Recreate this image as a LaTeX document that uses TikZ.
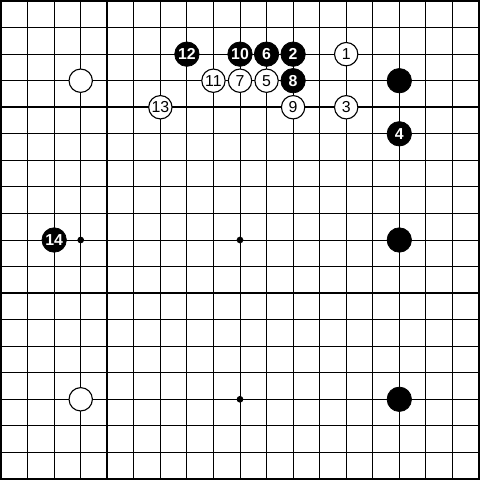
\documentclass[tikz,border=0pt]{standalone}
\usepackage{fontspec}
\setsansfont{Liberation Sans}
\begin{document}
\begin{tikzpicture}[x=0.5cm,y=-0.5cm,
 bstone/.style={circle,fill=black,draw=black,inner sep=0pt,minimum size=0.46cm,text=white,font=\sffamily\bfseries\fontsize{8.5}{8.5}\selectfont},
 wstone/.style={circle,fill=white,draw=black,line width=0.6pt,inner sep=0pt,minimum size=0.44cm,font=\sffamily\fontsize{8.5}{8.5}\selectfont},
 hoshi/.style={circle,fill=black,inner sep=0pt,minimum size=3.6pt}]
 \useasboundingbox (-0.04,-0.04) rectangle (18.04,18.04); %余白
 \foreach \i in {0,...,18} {
  \draw[line width=0.5pt] (\i,0)--(\i,18); %縦線
  \draw[line width=0.5pt] (0,\i)--(18,\i); %横線
 }
 \draw[line width=1.1pt] (0,0) rectangle (18,18); %外枠
 \draw[line width=1.1pt] (4,0)--(4,18); %太線
 \draw[line width=1.1pt] (0,4)--(18,4); %太線
 \draw[line width=1.1pt] (0,11)--(18,11); %太線
 \node[hoshi] (H1) at (3,9) {}; %星
 \node[hoshi] (H2) at (9,9) {}; %天元
 \node[hoshi] (H3) at (9,15) {}; %星
 \node[wstone] (WA) at (3,3) {}; %白
 \node[wstone] (WB) at (3,15) {}; %白
 \node[bstone] (BA) at (15,3) {}; %黒
 \node[bstone] (BB) at (15,9) {}; %黒
 \node[bstone] (BC) at (15,15) {}; %黒
 \node[wstone] (M1) at (13,2) {1};
 \node[bstone] (M2) at (11,2) {2};
 \node[wstone] (M3) at (13,4) {3};
 \node[bstone] (M4) at (15,5) {4};
 \node[wstone] (M5) at (10,3) {5};
 \node[bstone] (M6) at (10,2) {6};
 \node[wstone] (M7) at (9,3) {7};
 \node[bstone] (M8) at (11,3) {8};
 \node[wstone] (M9) at (11,4) {9};
 \node[bstone] (M10) at (9,2) {10};
 \node[wstone] (M11) at (8,3) {11};
 \node[bstone] (M12) at (7,2) {12};
 \node[wstone] (M13) at (6,4) {13};
 \node[bstone] (M14) at (2,9) {14};
\end{tikzpicture}
\end{document}
